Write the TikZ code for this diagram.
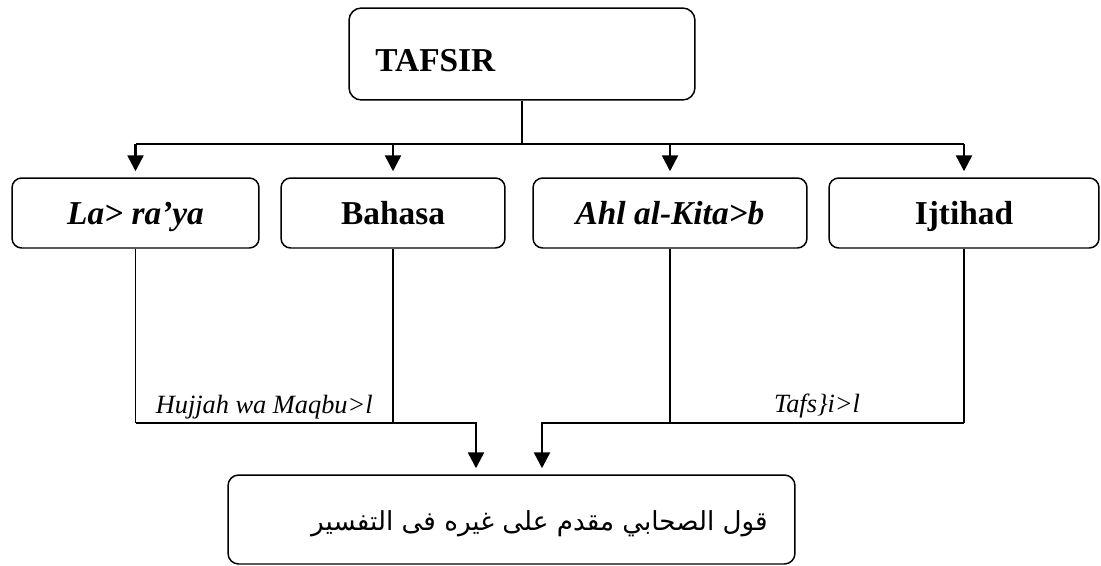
\documentclass[tikz,border=0pt]{standalone}
\usepackage{fontspec}
\setmainfont{Liberation Serif}
\newfontfamily\arabicfont[Script=Arabic]{DejaVu Sans}
\TeXXeTstate=1
\usetikzlibrary{arrows.meta, positioning}
\tikzset{
  box/.style={rectangle, draw, line width=0.85pt, rounded corners=5.5pt, minimum height=1.4cm, inner sep=0pt, align=center, text height=13pt, text depth=0pt, font=\fontsize{19}{23}\selectfont\bfseries},
  bus/.style={line width=1.4pt},
  stem/.style={line width=0.75pt},
  arrow/.style={line width=1.4pt, -{Triangle[length=9pt, width=9pt]}, shorten >=0.12cm},
  note/.style={font=\fontsize{15}{18}\selectfont\itshape, inner sep=0pt}
}

\begin{document}
\begin{tikzpicture}[x=0.02cm, y=-0.02cm]
\useasboundingbox (0,0) rectangle (1101,565);

% Top box
\node[box, minimum width=6.92cm, minimum height=1.84cm, rounded corners=7pt] (tafsir) at (522,54) {};
\node[anchor=base west, inner sep=0pt, font=\fontsize{19}{23}\selectfont\bfseries] (tafsirlbl) at (375,71) {TAFSIR};

% Sources
\node[box, minimum width=4.94cm] (laraya) at (135.5,213) {\textit{La> ra’ya}};
\node[box, minimum width=4.48cm] (bahasa) at (393,213) {Bahasa};
\node[box, minimum width=5.48cm] (ahlkitab) at (670,213) {\textit{Ahl al-Kita>b}};
\node[box, minimum width=5.4cm] (ijtihad) at (964,213) {Ijtihad};

% Result
\node[box, minimum width=11.34cm, minimum height=1.78cm, rounded corners=6pt] (qawl) at (511.5,519.5) {};
\node[anchor=base east, inner sep=0pt, font=\arabicfont\fontsize{14.9}{18}\selectfont] (qawllbl) at (768,530) {\beginR قول الصحابي مقدم على غيره فى التفسير\endR};

% Split below TAFSIR
\coordinate (split) at (522,144);
\coordinate (lowbus) at (0,423);
\draw[stem] (tafsir.south) -- (split);
\draw[bus] (laraya.north |- split) -- (ijtihad.north |- split);
\foreach \n in {laraya, bahasa, ahlkitab, ijtihad}
  \draw[arrow] (\n.north |- split) -- (\n.north);

% Left branch
\draw[stem] (laraya.south) -- (laraya.south |- lowbus);
\draw[stem] (bahasa.south) -- (bahasa.south |- lowbus);
\draw[bus] (laraya.south |- lowbus) -- (bahasa.south |- lowbus) node[note, midway, anchor=base, yshift=0.2cm] (hujjah) {Hujjah wa Maqbu>l};
\draw[arrow] (bahasa.south |- lowbus) -| ([xshift=-0.71cm]qawl.north);

% Right branch
\draw[stem] (ahlkitab.south) -- (ahlkitab.south |- lowbus);
\draw[stem] (ijtihad.south) -- (ijtihad.south |- lowbus);
\draw[bus] (ahlkitab.south |- lowbus) -- (ijtihad.south |- lowbus) node[note, midway, anchor=base, yshift=0.22cm] (tafsil) {Tafs\}i>l};
\draw[arrow] (ahlkitab.south |- lowbus) -| ([xshift=0.61cm]qawl.north);

\end{tikzpicture}
\end{document}
